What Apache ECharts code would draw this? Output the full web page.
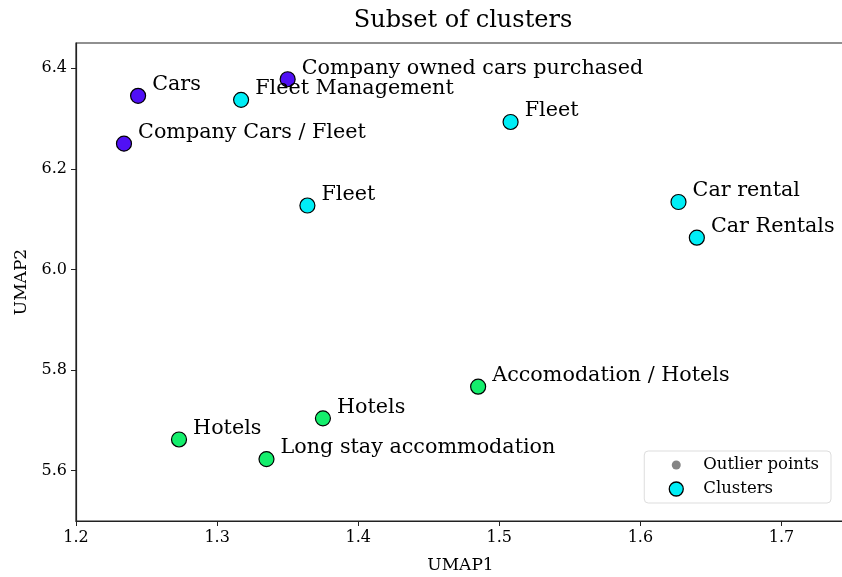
<!DOCTYPE html>
<html>
<head>
<meta charset="utf-8">
<script src="https://cdn.jsdelivr.net/npm/echarts@6/dist/echarts.min.js"></script>
<style>html,body{margin:0;padding:0;background:#fff}#c{width:842px;height:577px}</style>
</head>
<body>
<div id="c"></div>
<script>
// ---- data ----
const labels = ["Cars", "Company owned cars purchased", "Company Cars / Fleet",
  "Fleet Management", "Fleet", "Fleet", "Car rental", "Car Rentals",
  "Accomodation / Hotels", "Hotels", "Hotels", "Long stay accommodation"];
const umap1 = [1.244, 1.350, 1.234, 1.317, 1.508, 1.364, 1.627, 1.640, 1.485, 1.375, 1.273, 1.335];
const umap2 = [6.345, 6.378, 6.250, 6.337, 6.293, 6.127, 6.134, 6.063, 5.767, 5.704, 5.662, 5.623];
const clusterId = [0, 0, 0, 1, 1, 1, 1, 1, 2, 2, 2, 2];
const xTicks = [1.2, 1.3, 1.4, 1.5, 1.6, 1.7];
const yTicks = [5.6, 5.8, 6.0, 6.2, 6.4];

const clusterColors = ["#5010f5", "#00eef6", "#14ee6c"];
const FONT = "DejaVu Serif";

const pts = labels.map((n, i) => ({
  name: n, value: [umap1[i], umap2[i]],
  itemStyle: { color: clusterColors[clusterId[i]] }
}));

function svgIcon(r, fill, stroke) {
  const s = `<svg xmlns="http://www.w3.org/2000/svg" width="20" height="20" viewBox="0 0 20 20"><circle cx="10" cy="10" r="${r}" fill="${fill}" ${stroke ? 'stroke="#000" stroke-width="1.3"' : ''}/></svg>`;
  return 'image://data:image/svg+xml;charset=utf-8,' + encodeURIComponent(s);
}

const chart = echarts.init(document.getElementById('c'), null, { renderer: 'canvas' });
chart.setOption({
  animation: false,
  backgroundColor: '#fff',
  title: {
    text: 'Subset of clusters', left: 458, top: 4, textAlign: 'center',
    textStyle: { fontFamily: FONT, fontSize: 24, fontWeight: 'normal', color: '#000' }
  },
  grid: { left: 76, right: -3, top: 43, bottom: 56, show: true, borderColor: '#222', borderWidth: 1.2,
    outerBoundsMode: 'none', containLabel: false },
  legend: {
    right: 11, bottom: 74, orient: 'vertical',
    itemWidth: 20, itemHeight: 20, itemGap: 4,
    padding: [4, 12, 4, 22],
    borderColor: '#ddd', borderWidth: 1, borderRadius: 4, backgroundColor: '#fff',
    textStyle: { fontFamily: FONT, fontSize: 16.5, color: '#000', padding: [0, 0, 0, 12] },
    data: [
      { name: 'Outlier points', icon: svgIcon(4.5, '#666', false) },
      { name: 'Clusters', icon: svgIcon(7, '#00eef6', true) }
    ]
  },
  xAxis: {
    type: 'value', min: 1.2, max: 1.745,
    name: 'UMAP1', nameLocation: 'middle', nameGap: 36,
    nameTextStyle: { fontFamily: FONT, fontSize: 17, color: '#000' },
    axisLine: { show: true, lineStyle: { color: '#222', width: 1.2 } },
    axisTick: { show: true, length: 5, lineStyle: { color: '#222' }, customValues: xTicks },
    axisLabel: { fontFamily: FONT, fontSize: 16, color: '#000', margin: 9, customValues: xTicks,
      formatter: v => v.toFixed(1) },
    splitLine: { show: false }
  },
  yAxis: {
    type: 'value', min: 5.5, max: 6.45,
    name: 'UMAP2', nameLocation: 'middle', nameGap: 46, nameRotate: 90,
    nameTextStyle: { fontFamily: FONT, fontSize: 17, color: '#000' },
    axisLine: { show: true, lineStyle: { color: '#222', width: 1.2 } },
    axisTick: { show: true, length: 5, lineStyle: { color: '#222' }, customValues: yTicks },
    axisLabel: { fontFamily: FONT, fontSize: 16, color: '#000', margin: 9, customValues: yTicks,
      formatter: v => v.toFixed(1) },
    splitLine: { show: false }
  },
  series: [
    { name: 'Outlier points', type: 'scatter', data: [], itemStyle: { color: '#666' } },
    {
      name: 'Clusters', type: 'scatter', symbolSize: 15, data: pts,
      itemStyle: { borderColor: '#000', borderWidth: 1.2, opacity: 1 },
      label: {
        show: true, position: 'right', distance: 6, offset: [0, -11],
        formatter: p => p.name,
        fontFamily: FONT, fontSize: 20.7, color: '#000'
      },
      emphasis: { disabled: true }
    }
  ]
});
</script>
</body>
</html>
